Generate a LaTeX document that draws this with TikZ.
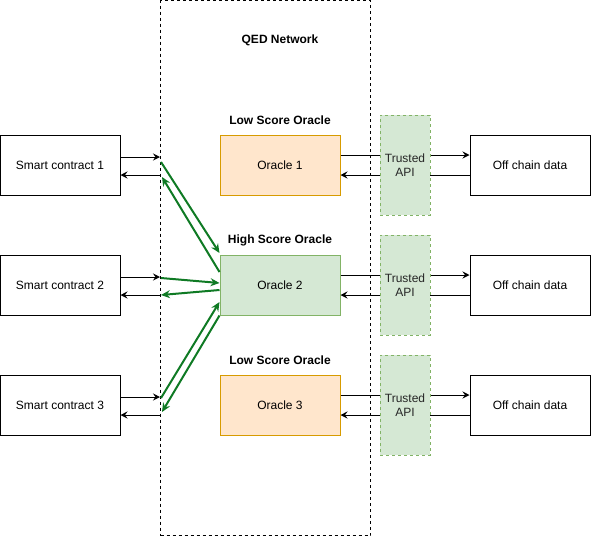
\documentclass[tikz,border=0pt]{standalone}
\usepackage{fontspec}
\setmainfont{Liberation Sans}
\usetikzlibrary{shapes.geometric, arrows, arrows.meta}
\definecolor{orafill}{HTML}{FFE6CC}
\definecolor{oradraw}{HTML}{D79B00}
\definecolor{apifill}{HTML}{D5E8D4}
\definecolor{apidraw}{HTML}{82B366}
\definecolor{linkgreen}{HTML}{0F7A24}
\tikzstyle{network} = [rectangle, minimum width=210pt, minimum height=535pt, draw=black, dash pattern=on 3pt off 3pt]
\tikzstyle{contract} = [rectangle, minimum width=120pt, minimum height=60pt, align=center, draw=black, fill=white]
\tikzstyle{oracle} = [rectangle, minimum width=120pt, minimum height=60pt, align=center, draw=oradraw, fill=orafill]
\tikzstyle{bestoracle} = [oracle, draw=apidraw, fill=apifill]
\tikzstyle{api} = [rectangle, minimum width=50pt, minimum height=100pt, align=center, draw=apidraw, dash pattern=on 3pt off 3pt, fill=apifill, text=black!85]
\tikzstyle{title} = [font=\fontsize{12}{14}\selectfont\bfseries]
\tikzstyle{arrow} = [-{Stealth[length=7pt,width=7pt,inset=2.5pt]}]
\tikzstyle{greenarrow} = [-{Stealth[length=9pt,width=8pt,inset=3pt]}, draw=linkgreen, line width=2pt]

\begin{document}
\begin{tikzpicture}[x=1pt, y=-1pt, line width=1pt, font=\fontsize{12}{14}\selectfont]
\useasboundingbox (0,0) rectangle (591,536);
\node (net) [network] at (265.5,268) {};
\node (nettitle) [title] at (280,40) {QED Network};

% smart contracts
\node (sc1) [contract] at (60,165) {Smart contract 1};
\node (sc2) [contract] at (60,285) {Smart contract 2};
\node (sc3) [contract] at (60,405) {Smart contract 3};

% oracles
\node (low1) [title] at (280,120) {Low Score Oracle};
\node (high2) [title] at (280,240) {High Score Oracle};
\node (low3) [title] at (280,360) {Low Score Oracle};
\node (o1) [oracle] at (280,165) {Oracle 1};
\node (o2) [bestoracle] at (280,285) {Oracle 2};
\node (o3) [oracle] at (280,405) {Oracle 3};

% off chain
\node (off1) [contract] at (530,165) {Off chain data};
\node (off2) [contract] at (530,285) {Off chain data};
\node (off3) [contract] at (530,405) {Off chain data};

% points on the network edge
\coordinate (in1) at (160,157);
\coordinate (out1) at (160,175);
\coordinate (in2) at (160,277);
\coordinate (out2) at (160,295);
\coordinate (in3) at (160,397);
\coordinate (out3) at (160,415);

\draw[arrow] (sc1.east |- in1) -- (in1);
\draw[arrow] (out1) -- (sc1.east |- out1);
\draw[arrow] (sc2.east |- in2) -- (in2);
\draw[arrow] (out2) -- (sc2.east |- out2);
\draw[arrow] (sc3.east |- in3) -- (in3);
\draw[arrow] (out3) -- (sc3.east |- out3);

% links to the high score oracle
\coordinate (g1a) at (161,162);
\coordinate (g1b) at (162,177);
\coordinate (g2a) at (161,278);
\coordinate (g2b) at (161,295);
\coordinate (g3a) at (161,398);
\coordinate (g3b) at (162,412);
\draw[greenarrow] (g1a) -- ([yshift=1.5pt]o2.north west);
\draw[greenarrow] ([yshift=13pt]o2.west) -- (g1b);
\draw[greenarrow] (g2a) -- ([yshift=2pt]o2.west);
\draw[greenarrow] ([yshift=-5pt]o2.west) -- (g2b);
\draw[greenarrow] (g3a) -- ([yshift=-17pt]o2.west);
\draw[greenarrow] (o2.south west) -- (g3b);

% oracle to off chain data
\draw[arrow] ([yshift=10pt]o1.east) -- ([yshift=10pt]off1.west);
\draw[arrow] ([yshift=-10pt]off1.west) -- ([yshift=-10pt]o1.east);
\draw[arrow] ([yshift=10pt]o2.east) -- ([yshift=10pt]off2.west);
\draw[arrow] ([yshift=-10pt]off2.west) -- ([yshift=-10pt]o2.east);
\draw[arrow] ([yshift=10pt]o3.east) -- ([yshift=10pt]off3.west);
\draw[arrow] ([yshift=-10pt]off3.west) -- ([yshift=-10pt]o3.east);

\node (api1) [api] at (405,165) {Trusted\\API};
\node (api2) [api] at (405,285) {Trusted\\API};
\node (api3) [api] at (405,405) {Trusted\\API};
\end{tikzpicture}
\end{document}
